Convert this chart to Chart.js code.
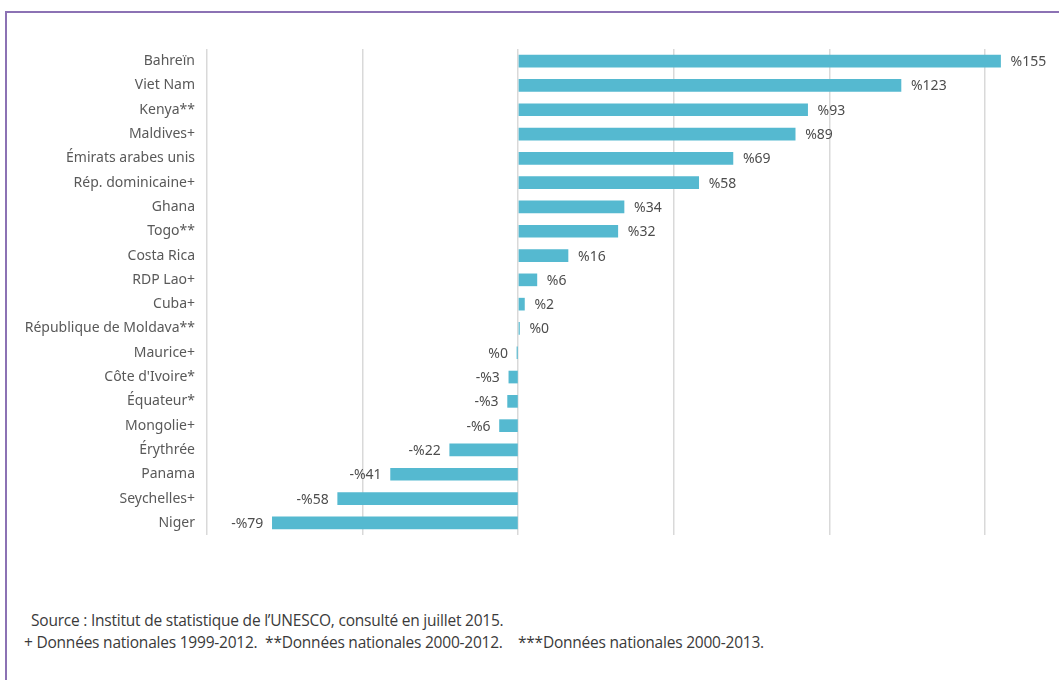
<!DOCTYPE html>
<html lang="fr">
<head>
<meta charset="utf-8">
<script src="https://cdn.jsdelivr.net/npm/chart.js@4"></script>
<style>
  body { margin: 0; background: #fff; width: 1059px; height: 680px; overflow: hidden; position: relative; }
  #frame { position: absolute; left: 5px; top: 11px; width: 1100px; height: 700px;
           border-top: 2px solid #8c72b4; border-left: 2px solid #8c72b4; }
  #wrap { position: absolute; left: 0; top: 0; width: 1059px; height: 561px; }
  .note { position: absolute; font-family: "Open Sans", sans-serif; font-size: 15.5px; color: #3a3a3a;
          letter-spacing: -0.22px; white-space: pre; }
</style>
</head>
<body>
<div id="frame"></div>
<div id="wrap"><canvas id="chart"></canvas></div>
<div class="note" style="left:31px; top:609px;">Source : Institut de statistique de l’UNESCO, consulté en juillet 2015.</div>
<div class="note" style="left:24px; top:631px;">+ Données nationales 1999-2012.  **Données nationales 2000-2012.    ***Données nationales 2000-2013.</div>
<script>
const countries = [
  "Bahreïn", "Viet Nam", "Kenya**", "Maldives+", "Émirats arabes unis",
  "Rép. dominicaine+", "Ghana", "Togo**", "Costa Rica", "RDP Lao+",
  "Cuba+", "République de Moldava**", "Maurice+", "Côte d'Ivoire*", "Équateur*",
  "Mongolie+", "Érythrée", "Panama", "Seychelles+", "Niger"
];
// variation en %, arrondie à l'unité dans les étiquettes
const changes = [
  155, 123, 93, 89, 69,
  58, 34, 32, 16, 6,
  2, 0.4, -0.4, -3, -3.4,
  -6, -22, -41, -58, -79
];
const xTicks = [-100, -50, 0, 50, 100, 150];

const fmt = v => {
  const r = Math.round(v);
  return (r < 0 ? "-%" : "%") + Math.abs(r);
};

// étiquettes de valeur au bout des barres
const valueLabels = {
  id: "valueLabels",
  afterDatasetsDraw(chart) {
    const ctx = chart.ctx;
    const meta = chart.getDatasetMeta(0);
    ctx.save();
    ctx.font = "14px 'Noto Sans', sans-serif";
    ctx.fillStyle = "#4d4d4d";
    ctx.textBaseline = "middle";
    meta.data.forEach((bar, i) => {
      const v = changes[i];
      if (v >= 0) {
        ctx.textAlign = "left";
        ctx.fillText(fmt(v), bar.x + 10, bar.y + 1);
      } else {
        ctx.textAlign = "right";
        ctx.fillText(fmt(v), bar.x - 9, bar.y + 1);
      }
    });
    ctx.restore();
  }
};

new Chart(document.getElementById("chart"), {
  type: "bar",
  data: {
    labels: countries,
    datasets: [{
      data: changes,
      backgroundColor: "#55b9d0",
      barThickness: 12,
      clip: false
    }]
  },
  options: {
    indexAxis: "y",
    responsive: true,
    maintainAspectRatio: false,
    animation: false,
    layout: { padding: { top: 49, bottom: 26, right: 74, left: 0 } },
    plugins: { legend: { display: false }, tooltip: { enabled: false } },
    scales: {
      x: {
        min: -100,
        max: 150,
        afterBuildTicks: s => { s.ticks = xTicks.map(v => ({ value: v })); },
        ticks: { display: false },
        grid: { color: "#d9d9d9", lineWidth: 1.5, drawTicks: false },
        border: { display: false }
      },
      y: {
        afterFit: s => { s.width = 207; },
        ticks: {
          color: "#595959",
          padding: 12,
          font: { family: "'Noto Sans', sans-serif", size: 14 }
        },
        grid: { display: false, drawTicks: false },
        border: { display: false }
      }
    }
  },
  plugins: [valueLabels]
});
</script>
</body>
</html>
